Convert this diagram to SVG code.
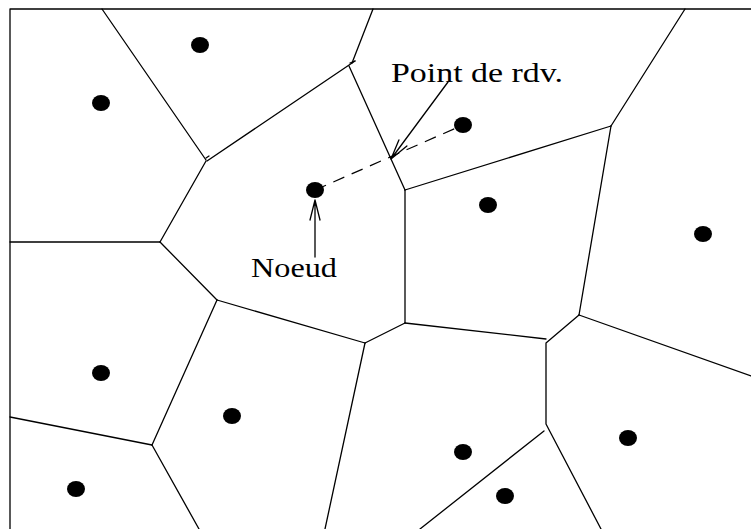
<svg xmlns="http://www.w3.org/2000/svg" width="751" height="529" viewBox="0 0 751 529">
<defs>
<style>
.e{stroke:#000;stroke-width:1.3;fill:none;stroke-linecap:round;stroke-linejoin:round}
.d{fill:#000}
.t{font-family:"Liberation Serif","Times New Roman",serif;font-size:27px;fill:#000}
.dash{stroke:#000;stroke-width:1.2;fill:none;stroke-dasharray:12,8}
</style>
</defs>
<rect width="751" height="529" fill="#fff"/>
<g id="edges">
<path class="e" d="M10,529 L10,9 L751,9"/>
<path class="e" d="M102,9 L206,160"/>
<path class="e" d="M207,161 L355,61"/>
<path class="e" d="M373,9 L352,63"/>
<path class="e" d="M349,66 L405,190"/>
<path class="e" d="M206,158 L209,156"/>
<path class="e" d="M350,63 L355,61"/>
<path class="e" d="M405,190 L405,323"/>
<path class="e" d="M405,323 L546,339"/>
<path class="e" d="M405,323 L365,343"/>
<path class="e" d="M405,190 L611,126"/>
<path class="e" d="M611,126 L685,9"/>
<path class="e" d="M611,126 L579,315"/>
<path class="e" d="M579,315 L751,376"/>
<path class="e" d="M579,315 L546,343 L546,424 L601,529"/>
<path class="e" d="M544,431 L420,529"/>
<path class="e" d="M206,161 L160,242"/>
<path class="e" d="M10,242 L160,242"/>
<path class="e" d="M160,242 L217,300"/>
<path class="e" d="M217,300 L365,343"/>
<path class="e" d="M217,300 L152,445"/>
<path class="e" d="M10,417 L152,445"/>
<path class="e" d="M152,445 L199,529"/>
<path class="e" d="M365,343 L325,529"/>
</g>
<g id="connectors">
<path class="dash" d="M315,190 L463,125"/>
<path class="e" d="M315,257 L315,200 M310,220 L315,200 L320,220"/>
<path class="e" d="M448,82 L391,159 M406.9,145.9 L391,159 L398.9,139.9"/>
</g>
<g id="nodes">
<g id="n1"><ellipse class="d" cx="200" cy="45" rx="9" ry="8"/></g>
<g id="n2"><ellipse class="d" cx="101" cy="103" rx="9" ry="8"/></g>
<g id="n3"><ellipse class="d" cx="315" cy="190" rx="9" ry="8"/></g>
<g id="n4"><ellipse class="d" cx="463" cy="125" rx="9" ry="8"/></g>
<g id="n5"><ellipse class="d" cx="488" cy="205" rx="9" ry="8"/></g>
<g id="n6"><ellipse class="d" cx="703" cy="234" rx="9" ry="8"/></g>
<g id="n7"><ellipse class="d" cx="101" cy="373" rx="9" ry="8"/></g>
<g id="n8"><ellipse class="d" cx="232" cy="416" rx="9" ry="8"/></g>
<g id="n9"><ellipse class="d" cx="76" cy="489" rx="9" ry="8"/></g>
<g id="n10"><ellipse class="d" cx="463" cy="452" rx="9" ry="8"/></g>
<g id="n11"><ellipse class="d" cx="505" cy="496" rx="9" ry="8"/></g>
<g id="n12"><ellipse class="d" cx="628" cy="438" rx="9" ry="8"/></g>
</g>
<g id="labels">
<text class="t" x="251" y="277" textLength="86" lengthAdjust="spacingAndGlyphs">Noeud</text>
<text class="t" x="391" y="82" textLength="172" lengthAdjust="spacingAndGlyphs">Point de rdv.</text>
</g>
</svg>
